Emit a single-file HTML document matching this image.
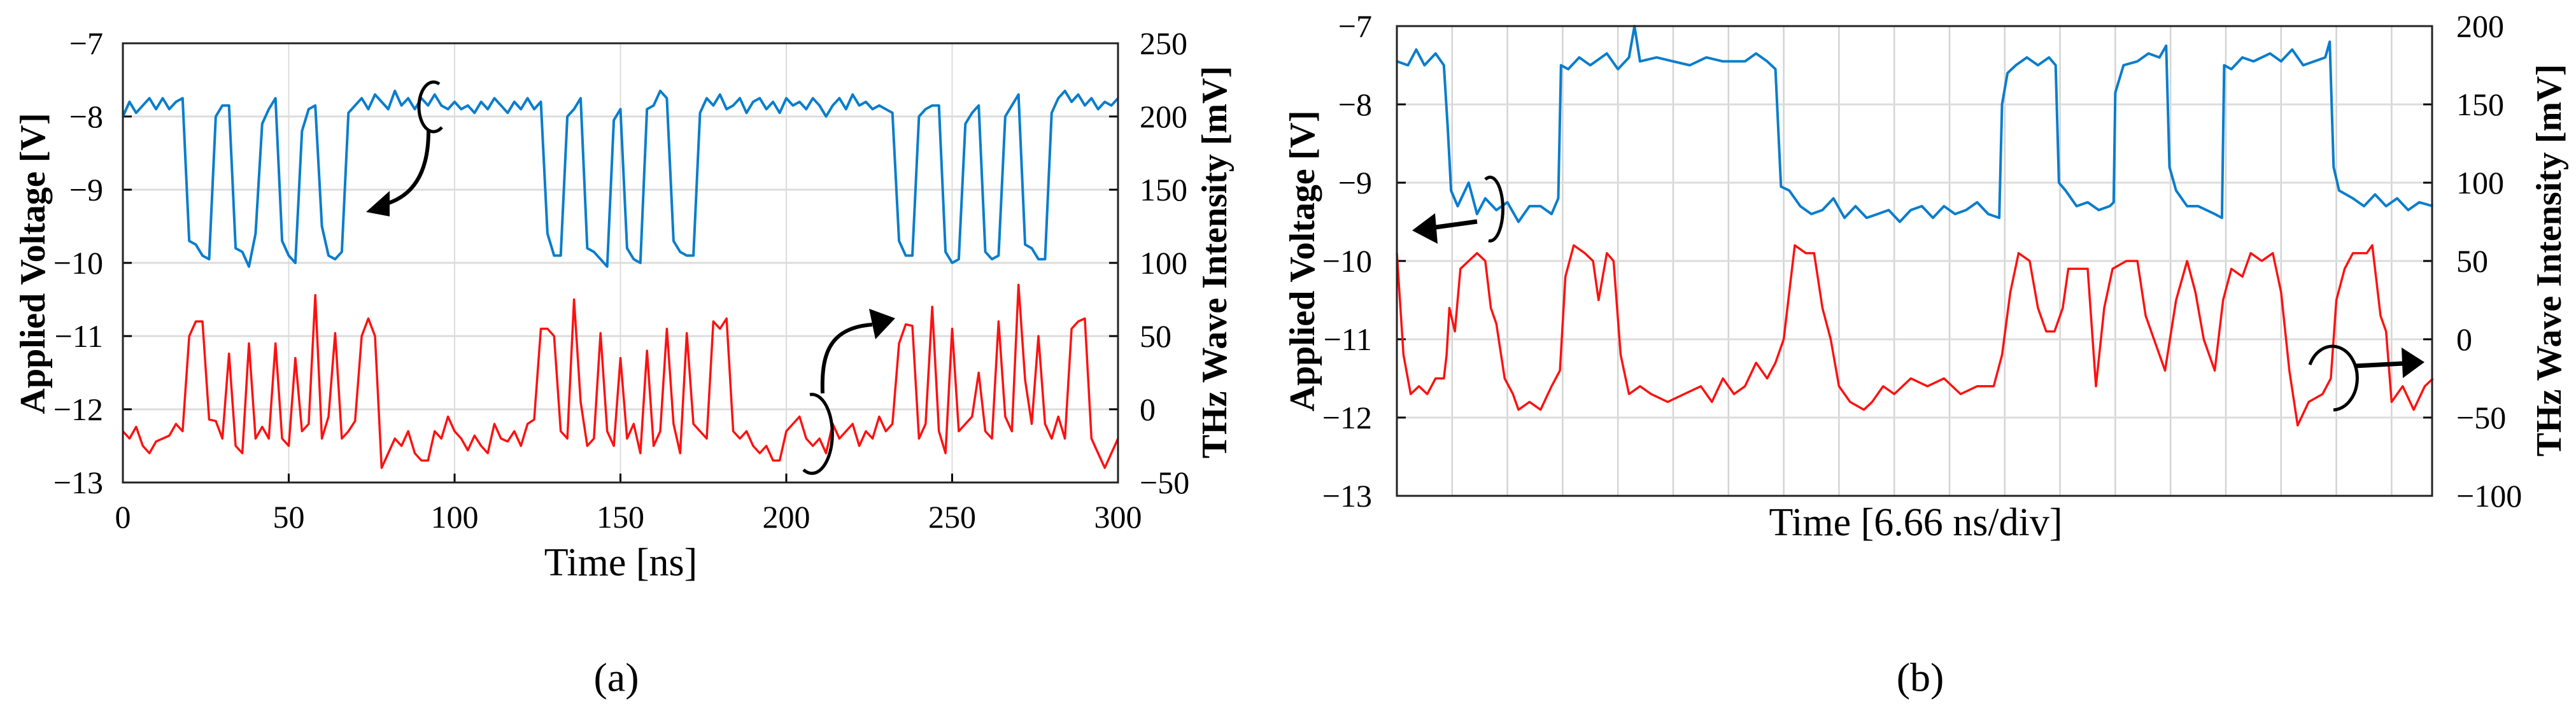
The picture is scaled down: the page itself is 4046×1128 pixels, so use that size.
<!DOCTYPE html>
<html><head><meta charset="utf-8"><style>
html,body{margin:0;padding:0;background:#fff;}
svg{display:block;}
text{font-family:"Liberation Serif",serif;fill:#000;}
</style></head><body>
<svg id="fig" width="4046" height="1128" viewBox="0 0 4046 1128" xmlns="http://www.w3.org/2000/svg"></svg>
<script>
// ---------- Panel (a) data ----------
const aTime = [0,2,4,6,8,10,12,14,16,18,20,22,24,26,28,30,32,34,36,38,40,42,44,46,48,50,52,54,56,58,60,62,64,66,68,70,72,74,76,78,80,82,84,86,88,90,92,94,96,98,100,102,104,106,108,110,112,114,116,118,120,122,124,126,128,130,132,134,136,138,140,142,144,146,148,150,152,154,156,158,160,162,164,166,168,170,172,174,176,178,180,182,184,186,188,190,192,194,196,198,200,202,204,206,208,210,212,214,216,218,220,222,224,226,228,230,232,234,236,238,240,242,244,246,248,250,252,254,256,258,260,262,264,266,268,270,272,274,276,278,280,282,284,286,288,290,292,294,296,298,300];
const aVoltage = [-8.0,-7.8,-7.95,-7.85,-7.75,-7.9,-7.75,-7.9,-7.8,-7.75,-9.7,-9.75,-9.9,-9.95,-8.0,-7.85,-7.85,-9.8,-9.85,-10.05,-9.6,-8.1,-7.9,-7.75,-9.7,-9.9,-10.0,-8.2,-7.9,-7.85,-9.5,-9.9,-9.95,-9.85,-7.95,-7.85,-7.75,-7.9,-7.7,-7.8,-7.9,-7.65,-7.85,-7.75,-7.9,-7.75,-7.85,-7.7,-7.85,-7.9,-7.8,-7.9,-7.85,-7.95,-7.8,-7.9,-7.75,-7.85,-7.95,-7.8,-7.9,-7.75,-7.9,-7.8,-9.6,-9.9,-9.9,-8.0,-7.9,-7.75,-9.8,-9.85,-9.95,-10.05,-8.05,-7.9,-9.8,-9.95,-10.0,-7.9,-7.85,-7.65,-7.75,-9.7,-9.85,-9.9,-9.9,-7.95,-7.75,-7.85,-7.7,-7.9,-7.85,-7.75,-7.95,-7.8,-7.75,-7.9,-7.8,-7.95,-7.75,-7.85,-7.8,-7.9,-7.75,-7.85,-8.0,-7.85,-7.75,-7.9,-7.7,-7.85,-7.8,-7.9,-7.85,-7.9,-7.95,-9.7,-9.9,-9.9,-8.0,-7.9,-7.85,-7.85,-9.85,-10.0,-9.95,-8.1,-7.95,-7.85,-9.85,-9.95,-9.9,-8.0,-7.85,-7.7,-9.75,-9.8,-9.95,-9.95,-7.95,-7.75,-7.65,-7.8,-7.7,-7.85,-7.75,-7.9,-7.8,-7.85,-7.75];
const aTHz = [-15,-20,-12,-25,-30,-22,-20,-18,-10,-15,50,60,60,-7,-8,-20,38,-25,-30,45,-20,-12,-20,45,-20,-25,35,-15,-10,78,-20,-5,52,-20,-15,-8,50,62,50,-40,-30,-20,-25,-15,-30,-35,-35,-15,-20,-5,-15,-20,-28,-18,-25,-30,-10,-20,-22,-15,-25,-10,-7,55,55,50,-15,-20,75,5,-25,-20,52,-15,-25,35,-20,-10,-30,40,-25,-15,55,-10,-30,52,-10,-15,-20,60,55,62,-15,-20,-15,-25,-30,-25,-35,-35,-15,-10,-5,-20,-25,-20,-30,-10,-20,-15,-10,-25,-15,-20,-5,-15,-10,45,58,57,-20,-10,70,-15,-30,55,-15,-10,-5,25,-15,-20,60,-5,-15,85,20,-10,50,-10,-20,-5,-20,55,60,62,-20,-30,-40,-30,-20];
const aXTicks = [0,50,100,150,200,250,300];
const aYTicks = [-7,-8,-9,-10,-11,-12,-13];
const aY2Ticks = [250,200,150,100,50,0,-50];

// ---------- Panel (b) data ----------
const bBlueTime = [0,.2,.35,.5,.7,.85,.92,.98,1.1,1.3,1.45,1.6,1.8,2.0,2.2,2.4,2.6,2.8,2.92,2.97,3.1,3.3,3.5,3.8,4.0,4.2,4.3,4.4,4.7,5.0,5.3,5.6,5.9,6.3,6.5,6.7,6.85,6.95,7.1,7.3,7.5,7.7,7.9,8.1,8.3,8.5,8.7,8.9,9.1,9.3,9.5,9.7,9.9,10.1,10.3,10.5,10.7,10.9,10.95,11.05,11.2,11.4,11.6,11.8,11.92,11.98,12.1,12.3,12.5,12.7,12.9,12.97,13.0,13.15,13.4,13.6,13.8,13.92,13.98,14.1,14.3,14.5,14.8,14.93,14.97,15.1,15.3,15.5,15.8,16.0,16.2,16.4,16.6,16.8,16.88,16.95,17.05,17.3,17.5,17.7,17.9,18.1,18.3,18.5,18.75];
const bVoltage = [-7.45,-7.5,-7.3,-7.5,-7.35,-7.5,-8.3,-9.1,-9.3,-9.0,-9.4,-9.2,-9.35,-9.25,-9.5,-9.3,-9.3,-9.4,-9.2,-7.5,-7.55,-7.4,-7.5,-7.35,-7.55,-7.4,-7.0,-7.45,-7.4,-7.45,-7.5,-7.4,-7.45,-7.45,-7.35,-7.45,-7.55,-9.05,-9.1,-9.3,-9.4,-9.35,-9.2,-9.45,-9.3,-9.45,-9.4,-9.35,-9.5,-9.35,-9.3,-9.45,-9.3,-9.4,-9.35,-9.25,-9.4,-9.45,-8.0,-7.6,-7.5,-7.4,-7.5,-7.4,-7.5,-9.0,-9.1,-9.3,-9.25,-9.35,-9.3,-9.25,-7.85,-7.5,-7.45,-7.35,-7.4,-7.25,-8.8,-9.1,-9.3,-9.3,-9.4,-9.45,-7.5,-7.55,-7.4,-7.45,-7.35,-7.45,-7.3,-7.5,-7.45,-7.4,-7.2,-8.8,-9.1,-9.2,-9.3,-9.15,-9.3,-9.2,-9.35,-9.25,-9.3];
const bRedTime = [0,.12,.25,.4,.55,.7,.85,.9,.95,1.05,1.15,1.3,1.45,1.6,1.7,1.8,1.95,2.1,2.2,2.4,2.6,2.8,2.95,3.05,3.2,3.4,3.55,3.65,3.8,3.92,4.05,4.2,4.4,4.6,4.9,5.2,5.5,5.7,5.9,6.1,6.3,6.5,6.7,6.85,7.0,7.1,7.2,7.4,7.55,7.7,7.85,8.0,8.2,8.45,8.6,8.8,9.0,9.3,9.6,9.9,10.2,10.5,10.8,10.95,11.1,11.25,11.45,11.6,11.75,11.9,12.05,12.15,12.35,12.5,12.65,12.8,12.95,13.2,13.4,13.55,13.75,13.9,14.1,14.3,14.45,14.6,14.8,14.95,15.1,15.3,15.45,15.65,15.85,16.0,16.15,16.3,16.5,16.75,16.9,17.0,17.15,17.3,17.55,17.65,17.8,17.9,18.0,18.2,18.4,18.6,18.75];
const bTHz = [55,-10,-35,-30,-35,-25,-25,-10,20,5,45,50,55,50,20,10,-25,-35,-45,-40,-45,-30,-20,40,60,55,50,25,55,50,-10,-35,-30,-35,-40,-35,-30,-40,-25,-35,-30,-15,-25,-15,0,30,60,55,55,20,0,-30,-40,-45,-40,-30,-35,-25,-30,-25,-35,-30,-30,-10,30,55,50,20,5,5,20,45,45,45,-30,20,45,50,50,15,-5,-20,25,50,30,0,-20,25,45,40,55,50,55,30,-20,-55,-40,-35,-25,25,45,55,55,60,15,5,-40,-30,-45,-30,-25];
const bYTicks = [-7,-8,-9,-10,-11,-12,-13];
const bY2Ticks = [200,150,100,50,0,-50,-100];
const bDivisions = [1,2,3,4,5,6,7,8,9,10,11,12,13,14,15,16,17,18];

// ---------- helpers ----------
const NS = "http://www.w3.org/2000/svg";
const svg = document.getElementById("fig");
function mk(tag, attrs, parent){
  const e = document.createElementNS(NS, tag);
  for (const k in attrs) e.setAttribute(k, attrs[k]);
  (parent||svg).appendChild(e);
  return e;
}
function txt(s, x, y, size, anchor, parent, extra){
  const t = mk("text", Object.assign({x:x, y:y, "font-size":size, "text-anchor":anchor||"middle", "dominant-baseline":"central"}, extra||{}), parent);
  t.textContent = s;
  return t;
}

// ---------- Panel (a) ----------
const A = {l:193, r:1756, t:68, b:758};
const ax = t => A.l + (t-0)/(300-0)*(A.r-A.l);
const ay = v => A.t + (-7 - v)/6*(A.b-A.t);
const ay2 = m => A.t + (250 - m)/300*(A.b-A.t);
const gA = mk("g", {});


aXTicks.forEach(t => {
  const l = mk("line", {x1:ax(t), x2:ax(t), y1:A.t, y2:A.b, stroke:"#dcdcdc", "stroke-width":2}, gA);
  
  
});
aYTicks.forEach(v => {
  const l = mk("line", {x1:A.l, x2:A.r, y1:ay(v), y2:ay(v), stroke:"#dcdcdc", "stroke-width":3}, gA);
  
  
  mk("line", {x1:A.l, x2:A.l+14, y1:ay(v), y2:ay(v), stroke:"#000", "stroke-width":3}, gA);
  mk("line", {x1:A.r-14, x2:A.r, y1:ay(v), y2:ay(v), stroke:"#000", "stroke-width":3}, gA);
  const t = txt("\u2212"+Math.abs(v), 162, ay(v), 50, "end", gA);
  
  
});
aY2Ticks.forEach(m => {
  const t = txt(m<0 ? "\u2212"+Math.abs(m) : String(m), 1790, ay2(m), 50, "start", gA);
  
  
});
aXTicks.forEach(t => {
  mk("line", {x1:ax(t), x2:ax(t), y1:A.b-14, y2:A.b, stroke:"#000", "stroke-width":3}, gA);
  const lb = txt(String(t), ax(t), 812, 50, "middle", gA);
  
  
});
let pa = aTime.map((t,i)=>(i?"L":"M")+ax(t).toFixed(1)+","+ay(aVoltage[i]).toFixed(1)).join("");
const lineAB = mk("path", {d:pa, fill:"none", stroke:"#0a7dcc", "stroke-width":4, "stroke-linejoin":"round"}, gA);


pa = aTime.map((t,i)=>(i?"L":"M")+ax(t).toFixed(1)+","+ay2(aTHz[i]).toFixed(1)).join("");
const lineAR = mk("path", {d:pa, fill:"none", stroke:"#ff1010", "stroke-width":3.5, "stroke-linejoin":"round"}, gA);


const frA = mk("rect", {x:A.l, y:A.t, width:A.r-A.l, height:A.b-A.t, fill:"none", stroke:"#222", "stroke-width":3}, gA);


let tt = txt("Applied Voltage [V]", 0, 0, 56, "middle", gA, {"font-weight":"bold", transform:"translate(52,414) rotate(-90)"});


tt = txt("THz Wave Intensity [mV]", 0, 0, 56, "middle", gA, {"font-weight":"bold", transform:"translate(1908,412) rotate(-90)"});


tt = txt("Time [ns]", 975, 884, 62, "middle", gA);


tt = txt("(a)", 968, 1064, 64, "middle", gA);


// annotations (a)
let an = mk("path", {d:"M690,132 A23,39 0 1,0 694,200", fill:"none", stroke:"#000", "stroke-width":5}, gA);


an = mk("path", {d:"M673,206 C673,270 650,310 600,322", fill:"none", stroke:"#000", "stroke-width":6}, gA);


mk("polygon", {points:"575,333 612,300 612,340", fill:"#000"}, gA);
an = mk("path", {d:"M1272,620 A32,62 0 1,1 1262,738", fill:"none", stroke:"#000", "stroke-width":5}, gA);


an = mk("path", {d:"M1292,618 C1290,560 1300,515 1370,510", fill:"none", stroke:"#000", "stroke-width":6}, gA);


mk("polygon", {points:"1406,500 1365,485 1375,533", fill:"#000"}, gA);

// ---------- Panel (b) ----------
const B = {l:2194, r:3820, t:41, b:779, div:86.8};
const bx = d => B.l + d*B.div;
const by = v => B.t + (-7 - v)/6*(B.b-B.t);
const by2 = m => B.t + (200 - m)/300*(B.b-B.t);
const gB = mk("g", {});


bDivisions.forEach(d => {
  const l = mk("line", {x1:bx(d), x2:bx(d), y1:B.t, y2:B.b, stroke:"#d4d4d4", "stroke-width":2.5}, gB);
  
  
});
bYTicks.forEach(v => {
  const l = mk("line", {x1:B.l, x2:B.r, y1:by(v), y2:by(v), stroke:"#dcdcdc", "stroke-width":3}, gB);
  
  
  mk("line", {x1:B.l, x2:B.l+14, y1:by(v), y2:by(v), stroke:"#000", "stroke-width":3}, gB);
  mk("line", {x1:B.r-14, x2:B.r, y1:by(v), y2:by(v), stroke:"#000", "stroke-width":3}, gB);
  const t = txt("\u2212"+Math.abs(v), 2155, by(v), 50, "end", gB);
  
  
});
bY2Ticks.forEach(m => {
  const t = txt(m<0 ? "\u2212"+Math.abs(m) : String(m), 3858, by2(m), 50, "start", gB);
  
  
});
let pb = bBlueTime.map((d,i)=>(i?"L":"M")+bx(d).toFixed(1)+","+by(bVoltage[i]).toFixed(1)).join("");
const lineBB = mk("path", {d:pb, fill:"none", stroke:"#0a7dcc", "stroke-width":4, "stroke-linejoin":"round"}, gB);


pb = bRedTime.map((d,i)=>(i?"L":"M")+bx(d).toFixed(1)+","+by2(bTHz[i]).toFixed(1)).join("");
const lineBR = mk("path", {d:pb, fill:"none", stroke:"#ff1010", "stroke-width":3.5, "stroke-linejoin":"round"}, gB);


const frB = mk("rect", {x:B.l, y:B.t, width:B.r-B.l, height:B.b-B.t, fill:"none", stroke:"#222", "stroke-width":3}, gB);


tt = txt("Applied Voltage [V]", 0, 0, 56, "middle", gB, {"font-weight":"bold", transform:"translate(2046,410) rotate(-90)"});


tt = txt("THz Wave Intensity [mV]", 0, 0, 56, "middle", gB, {"font-weight":"bold", transform:"translate(4004,409) rotate(-90)"});


tt = txt("Time [6.66 ns/div]", 3009, 821, 62, "middle", gB);


tt = txt("(b)", 3016, 1064, 64, "middle", gB);


// annotations (b)
an = mk("path", {d:"M2333,282 A20,50 0 1,1 2338,378", fill:"none", stroke:"#000", "stroke-width":5}, gB);


an = mk("path", {d:"M2320,348 L2248,358", fill:"none", stroke:"#000", "stroke-width":7}, gB);


mk("polygon", {points:"2218,362 2254,335 2258,383", fill:"#000"}, gB);
an = mk("path", {d:"M3628,573 A39,50 0 1,1 3665,644", fill:"none", stroke:"#000", "stroke-width":5}, gB);


an = mk("path", {d:"M3698,575 L3775,571", fill:"none", stroke:"#000", "stroke-width":7}, gB);


mk("polygon", {points:"3808,569 3772,546 3774,594", fill:"#000"}, gB);
</script>
</body></html>
